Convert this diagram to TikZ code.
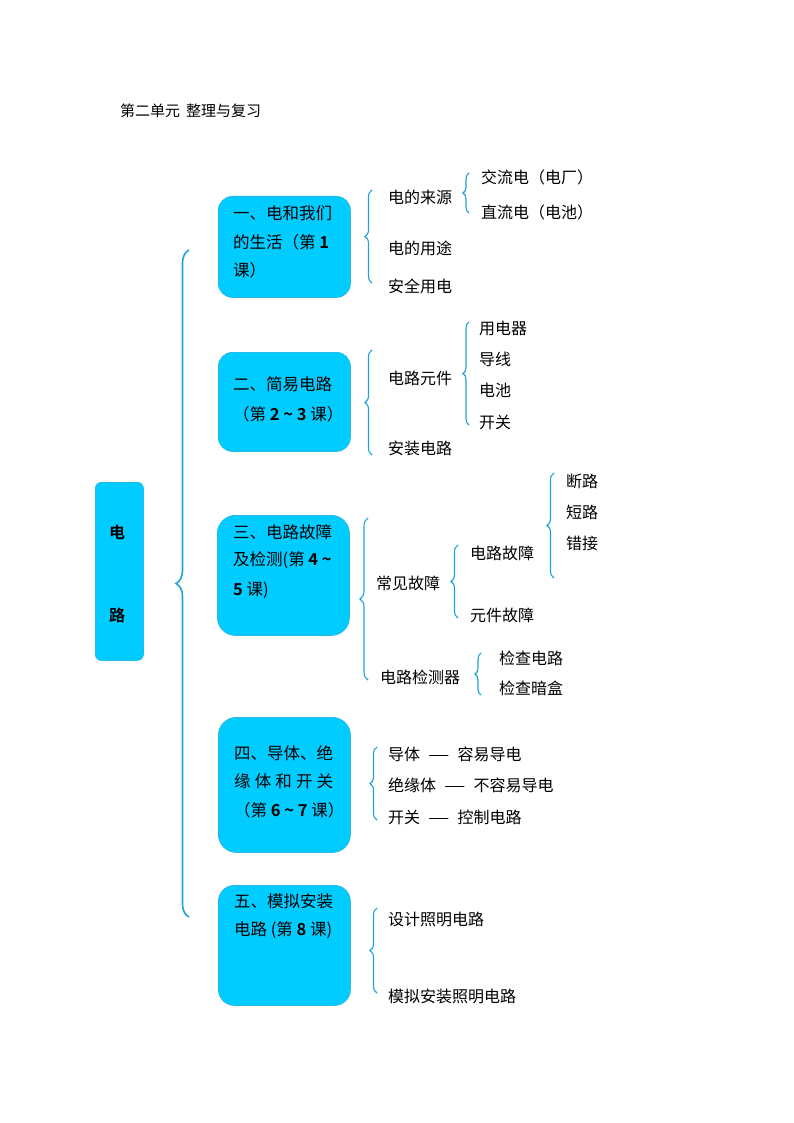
\documentclass[tikz,border=0pt]{standalone}
\usepackage{fontspec}
\setmainfont{Noto Sans CJK SC}[BoldFont={Noto Sans CJK SC Bold}]
\usetikzlibrary{decorations.pathreplacing}
\definecolor{boxcol}{RGB}{0,204,255}
\definecolor{boxline}{RGB}{40,185,235}
\definecolor{bracecol}{RGB}{30,162,218}
\newcommand{\tld}{\textasciitilde}
\newcommand{\ldash}{\scalebox{1.5}[1]{—}}
\begin{document}
\begin{tikzpicture}[x=1pt,y=-1pt,
  box/.style={draw=boxline, fill=boxcol, line width=0.8pt, rounded corners=14pt, anchor=north west, inner sep=0pt},
  bt/.style={anchor=west, inner sep=0pt, font=\fontsize{16.5}{16.5}\selectfont},
  it/.style={anchor=west, inner sep=0pt, font=\fontsize{16}{16}\selectfont},
  brc/.style={decorate, decoration={brace, amplitude=#1}, draw=bracecol, line width=1.1pt},
  brc/.default=7pt]
\useasboundingbox (0,0) rectangle (794,1123);

% title
\node[anchor=west, inner sep=0pt, font=\fontsize{15}{15}\selectfont] (title) at (120,111) {第二单元\hspace{6pt}整理与复习};

% root box
\node[box, rounded corners=6pt, minimum width=48pt, minimum height=178pt] (root) at (95,482) {};
\node[inner sep=0pt, font=\fontsize{16}{16}\selectfont\bfseries] (rootA) at (117,532) {电};
\node[inner sep=0pt, font=\fontsize{16}{16}\selectfont\bfseries] (rootB) at (117,615) {路};

% big brace
\coordinate (BBs) at (189,917);
\coordinate (BBe) at (189,250);
\draw[brc=13pt, line width=1.6pt] (BBs) -- (BBe);

% boxes
\node[box, minimum width=132pt, minimum height=101pt] (b1) at (218,196) {};
\node[box, minimum width=132pt, minimum height=99pt] (b2) at (218,352) {};
\node[box, minimum width=132pt, minimum height=120pt, rounded corners=18pt] (b3) at (217,515) {};
\node[box, minimum width=132pt, minimum height=135pt, rounded corners=18pt] (b4) at (218,717) {};
\node[box, minimum width=132pt, minimum height=120pt, rounded corners=16pt] (b5) at (218,885) {};

% box texts
\node[bt] (b1l1) at (233,213) {一、电和我们};
\node[bt] (b1l2) at (233,242) {的生活（第 \textbf{1}};
\node[bt] (b1l3) at (233,270) {课）};

\node[bt] (b2l1) at (233,384) {二、简易电路};
\node[bt] (b2l2) at (233,414) {（第 \textbf{2 \tld\ 3} 课）};

\node[bt] (b3l1) at (233,532) {三、电路故障};
\node[bt] (b3l2) at (233,560) {及检测(第 \textbf{4 \tld}};
\node[bt] (b3l3) at (233,590) {\textbf{5} 课)};

\node[bt] (b4l1) at (234,753) {四、导体、绝};
\node[bt] (b4l2) at (234,781) {\makebox[99pt][l]{缘\hfill 体\hfill 和\hfill 开\hfill 关}};
\node[bt] (b4l3) at (234,810) {\makebox[99pt][l]{（第 \textbf{6 \tld\ 7} 课）}};

\node[bt] (b5l1) at (234,901) {五、模拟安装};
\node[bt] (b5l2) at (234,930) {电路 (第 \textbf{8} 课)};

% ---- group 1
\coordinate (g1s) at (372,283);
\coordinate (g1e) at (372,190);
\draw[brc] (g1s) -- (g1e);
\node[it] (s11) at (388,197) {电的来源};
\node[it] (s12) at (388,248) {电的用途};
\node[it] (s13) at (388,286) {安全用电};
\coordinate (g11s) at (469,213);
\coordinate (g11e) at (469,173);
\draw[brc=6pt] (g11s) -- (g11e);
\node[it] (s111) at (481,177) {交流电（电厂）};
\node[it] (s112) at (481,212) {直流电（电池）};

% ---- group 2
\coordinate (g2s) at (372,455);
\coordinate (g2e) at (372,350);
\draw[brc] (g2s) -- (g2e);
\node[it] (s21) at (388,378) {电路元件};
\node[it] (s22) at (388,448) {安装电路};
\coordinate (g21s) at (469,425);
\coordinate (g21e) at (469,322);
\draw[brc=6pt] (g21s) -- (g21e);
\node[it] (s211) at (479,328) {用电器};
\node[it] (s212) at (479,359) {导线};
\node[it] (s213) at (479,390) {电池};
\node[it] (s214) at (479,422) {开关};

% ---- group 3
\coordinate (g3s) at (368,680);
\coordinate (g3e) at (368,518);
\draw[brc=8pt] (g3s) -- (g3e);
\node[it] (s31) at (376,583) {常见故障};
\node[it] (s32) at (380,677) {电路检测器};
\coordinate (g31s) at (458,618);
\coordinate (g31e) at (458,545);
\draw[brc=7pt] (g31s) -- (g31e);
\node[it] (s311) at (470,553) {电路故障};
\node[it] (s312) at (470,615) {元件故障};
\coordinate (g311s) at (554,578);
\coordinate (g311e) at (554,473);
\draw[brc=7pt] (g311s) -- (g311e);
\node[it] (s3111) at (566,481) {断路};
\node[it] (s3112) at (566,512) {短路};
\node[it] (s3113) at (566,543) {错接};
\coordinate (g32s) at (481,695);
\coordinate (g32e) at (481,653);
\draw[brc=6pt] (g32s) -- (g32e);
\node[it] (s321) at (499,658) {检查电路};
\node[it] (s322) at (499,688) {检查暗盒};

% ---- group 4
\coordinate (g4s) at (377,820);
\coordinate (g4e) at (377,747);
\draw[brc] (g4s) -- (g4e);
\node[it] (s41) at (388,754) {导体\hspace{8pt}\ldash\hspace{8pt}容易导电};
\node[it] (s42) at (388,785) {绝缘体\hspace{8pt}\ldash\hspace{8pt}不容易导电};
\node[it] (s43) at (388,817) {开关\hspace{8pt}\ldash\hspace{8pt}控制电路};

% ---- group 5
\coordinate (g5s) at (377,993);
\coordinate (g5e) at (377,908);
\draw[brc] (g5s) -- (g5e);
\node[it] (s51) at (388,919) {设计照明电路};
\node[it] (s52) at (388,996) {模拟安装照明电路};
\end{tikzpicture}
\end{document}
